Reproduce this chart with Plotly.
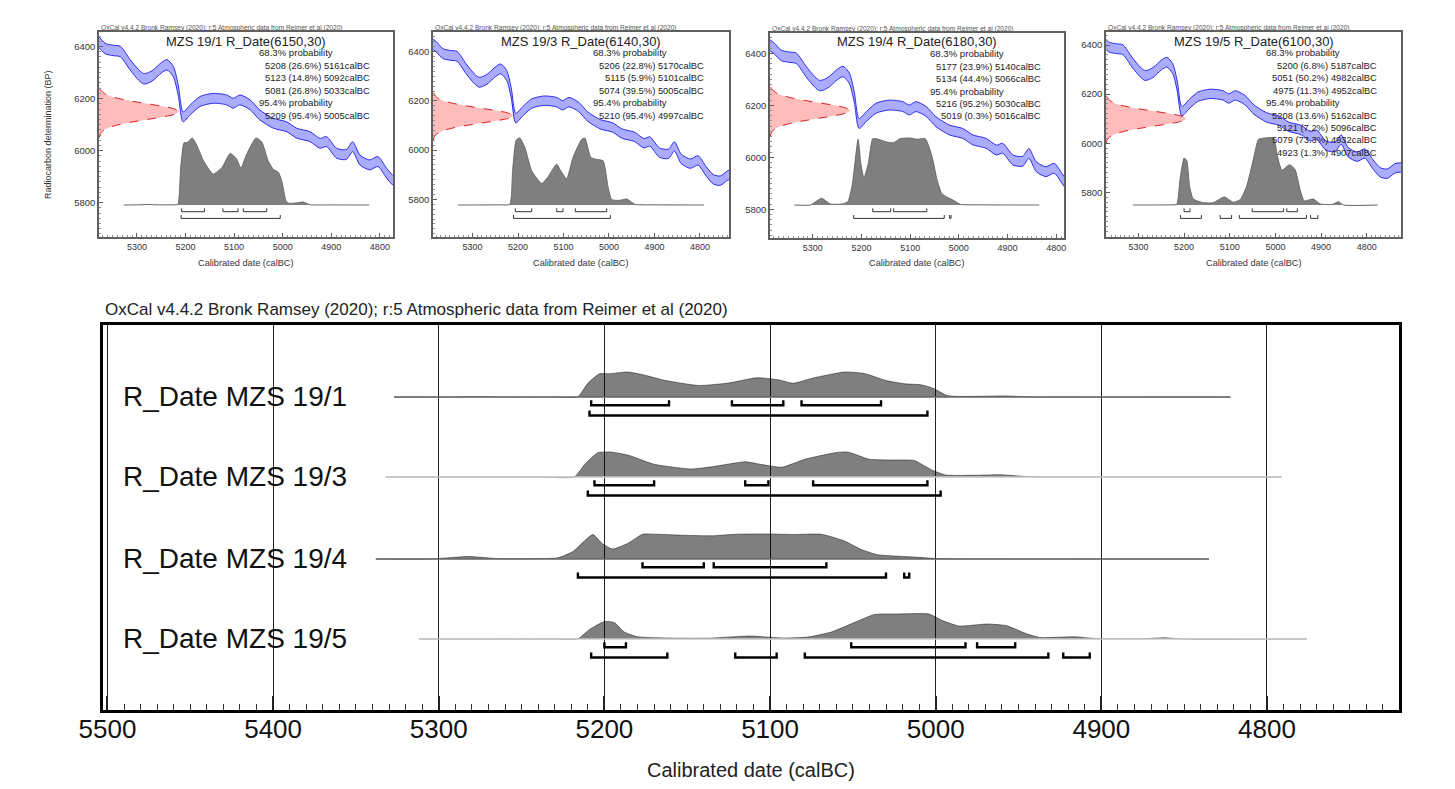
import plotly.graph_objects as go

# the page adds an 8px body margin: the figure fills the rest of the 1455x789 window
OFF = 8
W, H = 1455 - OFF, 789 - OFF

# ---------------- data ----------------
samples = ["MZS 19/1", "MZS 19/3", "MZS 19/4", "MZS 19/5"]
c14_age = [6150, 6140, 6180, 6100]
c14_err = [30, 30, 30, 30]

# calibrated ranges: (from, percent, to)  in calBC
range68 = [
    [(5208, 26.6, 5161), (5123, 14.8, 5092), (5081, 26.8, 5033)],
    [(5206, 22.8, 5170), (5115, 5.9, 5101), (5074, 39.5, 5005)],
    [(5177, 23.9, 5140), (5134, 44.4, 5066)],
    [(5200, 6.8, 5187), (5051, 50.2, 4982), (4975, 11.3, 4952)],
]
range95 = [
    [(5209, 95.4, 5005)],
    [(5210, 95.4, 4997)],
    [(5216, 95.2, 5030), (5019, 0.3, 5016)],
    [(5208, 13.6, 5162), (5121, 7.2, 5096), (5079, 73.3, 4932), (4923, 1.3, 4907)],
]

# IntCal20 calibration curve
cal_year = [5395, 5380, 5365, 5348, 5334, 5314, 5296, 5286, 5276, 5266, 5250, 5238,
            5225, 5215, 5205, 5190, 5170, 5143, 5115, 5102, 5088, 5067, 5047, 5019,
            4992, 4971, 4944, 4923, 4910, 4889, 4869, 4856, 4841, 4821, 4804, 4786,
            4770, 4755, 4738, 4720]
cal_bp = [6440, 6420, 6392, 6385, 6381, 6330, 6290, 6276, 6280, 6291, 6318, 6330,
          6304, 6233, 6130, 6157, 6189, 6201, 6195, 6182, 6195, 6176, 6137, 6105,
          6092, 6067, 6054, 6028, 6035, 5990, 5985, 6015, 5964, 5945, 5958, 5913,
          5881, 5876, 5898, 5902]
cal_sig = [21, 21, 20, 20, 20, 20, 20, 20, 20, 20, 20, 20,
           20, 20, 19, 19, 19, 19, 19, 19, 19, 19, 19, 19,
           19, 19, 19, 19, 19, 19, 19, 19, 19, 19, 19, 19,
           19, 19, 19, 19]

# radiocarbon likelihood profile (offset in 14C yr for sigma 30, relative height)
like_offset = [-100, -90, -80, -70, -60, -50, -40, -30, -20, -10, 0,
               10, 20, 30, 40, 50, 60, 70, 80, 90, 100]
like_rel = [0.004, 0.011, 0.029, 0.066, 0.135, 0.249, 0.411, 0.607, 0.801, 0.946, 1.0,
            0.946, 0.801, 0.607, 0.411, 0.249, 0.135, 0.066, 0.029, 0.011, 0.004]

# posterior (calibrated) distributions, relative probability
post_year_191 = [5327, 5290, 5277, 5265, 5230, 5216, 5210, 5203, 5197, 5186, 5178, 5163,
                 5143, 5125, 5108, 5095, 5086, 5074, 5055, 5043, 5030, 5019, 5009, 5002,
                 4993, 4987, 4972, 4958, 4944, 4900, 4822]
post_dens_191 = [0, 0.003, 0.01, 0.003, 0.002, 0.01, 0.55, 0.93, 0.93, 1.0, 0.91, 0.66,
                 0.46, 0.56, 0.77, 0.69, 0.55, 0.76, 1.0, 0.94, 0.66, 0.53, 0.49, 0.36,
                 0.06, 0.025, 0.03, 0.045, 0.005, 0.001, 0]

post_year_193 = [5332, 5240, 5218, 5212, 5204, 5196, 5185, 5170, 5148, 5134, 5115, 5106,
                 5093, 5079, 5060, 5053, 5040, 5027, 5013, 5002, 4994, 4976, 4961, 4943,
                 4900, 4791]
post_dens_193 = [0, 0.002, 0.01, 0.5, 0.97, 1.0, 0.86, 0.51, 0.32, 0.42, 0.61, 0.51,
                 0.39, 0.71, 0.98, 1.0, 0.71, 0.68, 0.66, 0.27, 0.08, 0.07, 0.09, 0.01,
                 0.002, 0]

post_year_194 = [5338, 5305, 5282, 5264, 5240, 5228, 5219, 5207, 5201, 5195, 5186, 5177,
                 5169, 5148, 5134, 5121, 5100, 5086, 5069, 5055, 5045, 5035, 5025, 5011,
                 4997, 4960, 4835]
post_dens_194 = [0, 0.0, 0.1, 0.015, 0.015, 0.05, 0.3, 0.98, 0.6, 0.4, 0.62, 0.99,
                 0.99, 0.94, 0.93, 0.99, 1.0, 0.98, 0.99, 0.72, 0.38, 0.17, 0.12, 0.07,
                 0.01, 0.002, 0]

post_year_195 = [5312, 5230, 5216, 5209, 5200, 5194, 5188, 5180, 5158, 5136, 5112, 5092,
                 5077, 5063, 5048, 5037, 5023, 5004, 4996, 4986, 4969, 4957, 4946, 4937,
                 4917, 4902, 4875, 4862, 4851, 4776]
post_dens_195 = [0, 0.002, 0.01, 0.38, 0.7, 0.66, 0.28, 0.09, 0.035, 0.035, 0.12, 0.04,
                 0.08, 0.28, 0.69, 0.98, 1.0, 1.0, 0.74, 0.52, 0.6, 0.53, 0.23, 0.06,
                 0.09, 0.015, 0.01, 0.05, 0.0, 0]

post_years = [post_year_191, post_year_193, post_year_194, post_year_195]
post_dens = [post_dens_191, post_dens_193, post_dens_194, post_dens_195]

x_ticks_small = [5300, 5200, 5100, 5000, 4900, 4800]
y_ticks_small = [5800, 6000, 6200, 6400]
x_ticks_big = [5500, 5400, 5300, 5200, 5100, 5000, 4900, 4800]

header = "OxCal v4.4.2 Bronk Ramsey (2020); r:5 Atmospheric data from Reimer et al (2020)"

# ---------------- helpers ----------------
FONT = "Liberation Sans, Arial, sans-serif"


def px(x):
    return (x - OFF) / W


def py(y):
    return 1 - (y - OFF) / H


def aid(kind, n):
    return kind if n == 1 else f"{kind}{n}"


def akey(kind, n):
    return f"{kind}axis" if n == 1 else f"{kind}axis{n}"


def bracket_xy(ranges, level, tick):
    bx, by = [], []
    for a, _, b in ranges:
        bx += [a, a, b, b, None]
        by += [level + tick, level, level, level + tick, None]
    return bx, by


# panel geometry (window pixels) and axis ranges
panels = [
    dict(x0=99, x1=393, y0=32, y1=237, xr=[5378, 4773], yr=[5668, 6456]),
    dict(x0=433, x1=729, y0=32, y1=237, xr=[5387, 4736], yr=[5647, 6480]),
    dict(x0=770, x1=1064, y0=33, y1=238, xr=[5388, 4784], yr=[5690, 6478]),
    dict(x0=1106, x1=1401, y0=32, y1=237, xr=[5371, 4725], yr=[5618, 6453]),
]
DENS_PX = 67.0   # pixel height of a full-probability peak in the small panels
BASE_PX = 205.0  # pixel row of the distribution baseline in the small panels
LIKE_PX = 80.0   # pixel width of the likelihood peak

fig = go.Figure()
layout = dict(width=W, height=H, margin=dict(l=0, r=0, t=0, b=0, pad=0), autosize=False,
              paper_bgcolor="white", plot_bgcolor="white", showlegend=False,
              font=dict(family=FONT, color="#222"))
annotations = []

for i, pn in enumerate(panels):
    p = i + 1
    xid, yid = aid("x", p), aid("y", p)
    ydid = aid("y", 4 + p)
    xgid = aid("x", 4 + p)
    layout[akey("x", p)] = dict(
        domain=[px(pn["x0"]), px(pn["x1"])], range=pn["xr"], anchor=yid, automargin=False,
        showline=True, mirror=True, linecolor="#606060", linewidth=1.5,
        ticks="inside", ticklen=4, tickcolor="#606060", tickmode="array",
        tickvals=x_ticks_small, tickfont=dict(size=9, color="#333"),
        showgrid=False, zeroline=False,
        minor=dict(tickmode="linear", tick0=0, dtick=10, ticklen=2, ticks="inside",
                   tickcolor="#909090", showgrid=False))
    layout[akey("y", p)] = dict(
        domain=[py(pn["y1"]), py(pn["y0"])], range=pn["yr"], anchor=xid, automargin=False,
        showline=True, mirror=True, linecolor="#606060", linewidth=1.5,
        ticks="inside", ticklen=4, tickcolor="#606060", tickmode="array",
        tickvals=y_ticks_small, tickfont=dict(size=9.5, color="#333"),
        showgrid=False, zeroline=False,
        minor=dict(tickmode="linear", tick0=0, dtick=20, ticklen=2, ticks="inside",
                   tickcolor="#909090", showgrid=False))
    layout[akey("y", 4 + p)] = dict(
        overlaying=yid, anchor=xid, visible=False, automargin=False,
        range=[-(pn["y1"] - BASE_PX) / DENS_PX, (BASE_PX - pn["y0"]) / DENS_PX])
    layout[akey("x", 4 + p)] = dict(
        overlaying=xid, anchor=yid, visible=False, automargin=False,
        range=[0, (pn["x1"] - pn["x0"]) / LIKE_PX])

    # calibration curve band
    lower = [b - s for b, s in zip(cal_bp, cal_sig)]
    upper = [b + s for b, s in zip(cal_bp, cal_sig)]
    fig.add_trace(go.Scatter(x=cal_year, y=lower, xaxis=xid, yaxis=yid, mode="lines",
                             line=dict(color="#2b2bee", width=1, shape="spline", smoothing=0.7),
                             hoverinfo="skip"))
    fig.add_trace(go.Scatter(x=cal_year, y=upper, xaxis=xid, yaxis=yid, mode="lines",
                             fill="tonexty", fillcolor="rgba(70,70,255,0.45)",
                             line=dict(color="#2b2bee", width=1, shape="spline", smoothing=0.7),
                             hoverinfo="skip"))
    # radiocarbon likelihood
    gy = [c14_age[i] + o * c14_err[i] / 30 for o in like_offset]
    fig.add_trace(go.Scatter(x=like_rel, y=gy, xaxis=xgid, yaxis=yid, mode="lines",
                             fill="tozerox", fillcolor="rgba(255,80,80,0.38)",
                             line=dict(color="#e02020", width=1, dash="dash", shape="spline"),
                             hoverinfo="skip"))
    # posterior
    fig.add_trace(go.Scatter(x=post_years[i], y=post_dens[i], xaxis=xid, yaxis=ydid,
                             mode="lines", fill="tozeroy", fillcolor="#7f7f7f",
                             line=dict(color="#6a6a6a", width=1, shape="spline", smoothing=0.5),
                             hoverinfo="skip"))
    for lvl, rngs in ((-0.1, range68[i]), (-0.2, range95[i])):
        bx, by = bracket_xy(rngs, lvl, 0.05)
        fig.add_trace(go.Scatter(x=bx, y=by, xaxis=xid, yaxis=ydid, mode="lines",
                                 line=dict(color="#333", width=1), hoverinfo="skip"))

    # texts
    cx = (pn["x0"] + pn["x1"]) / 2
    annotations.append(dict(x=px(pn["x0"]), y=py(pn["y0"] - 4), xref="paper", yref="paper",
                            text=header, showarrow=False, xanchor="left", yanchor="middle",
                            font=dict(size=6.6, color="#555")))
    annotations.append(dict(x=px(cx), y=py(42), xref="paper", yref="paper",
                            text=f"{samples[i]} R_Date({c14_age[i]},{c14_err[i]})",
                            showarrow=False, xanchor="center", yanchor="middle",
                            font=dict(size=13, color="#222")))
    lines = [("68.3% probability", "h")]
    lines += [(f"{a} ({pc}%) {b}calBC", "r") for a, pc, b in range68[i]]
    lines += [("95.4% probability", "h")]
    lines += [(f"{a} ({pc}%) {b}calBC", "r") for a, pc, b in range95[i]]
    for k, (t, kind) in enumerate(lines):
        yy = 53 + 12.4 * k + (pn["y0"] - 32)
        if kind == "h":
            annotations.append(dict(x=px(pn["x0"] + 158), y=py(yy), xref="paper", yref="paper",
                                    text=t, showarrow=False, xanchor="left", yanchor="middle",
                                    font=dict(size=9.6, color="#222")))
        else:
            annotations.append(dict(x=px(pn["x0"] + 273), y=py(yy), xref="paper", yref="paper",
                                    text=t, showarrow=False, xanchor="right", yanchor="middle",
                                    font=dict(size=9.4, color="#222")))
    annotations.append(dict(x=px(cx), y=py(263), xref="paper", yref="paper",
                            text="Calibrated date (calBC)", showarrow=False,
                            xanchor="center", yanchor="middle", font=dict(size=9.2, color="#333")))

annotations.append(dict(x=px(48), y=py(135), xref="paper", yref="paper",
                        text="Radiocarbon determination (BP)", showarrow=False, textangle=-90,
                        xanchor="center", yanchor="middle", font=dict(size=9, color="#333")))

# ---------------- multiplot ----------------
BX0, BX1, BY0, BY1 = 103, 1399, 325, 710
row_base = [397, 477, 559, 639]
ROW_PX = 25.0
row_line_colors = ["#666666", "#c8c8c8", "#666666", "#c8c8c8"]

layout["xaxis9"] = dict(
    domain=[px(BX0), px(BX1)], range=[5502.7, 4720.3], anchor="y9", automargin=False,
    showline=True, mirror=True, linecolor="black", linewidth=2.5,
    ticks="inside", ticklen=14, tickwidth=2, tickcolor="#222", tickmode="array",
    tickvals=x_ticks_big, tickfont=dict(size=26, color="#111"), ticklabelstandoff=-6,
    showgrid=True, gridcolor="#222", gridwidth=1.2, zeroline=False,
    minor=dict(tickmode="linear", tick0=0, dtick=10, ticklen=6, ticks="inside",
               tickcolor="#333", tickwidth=1.2, showgrid=False))
for r, pb in enumerate(row_base):
    n = 9 + r
    rng = [-(BY1 - pb) / ROW_PX, (pb - BY0) / ROW_PX]
    if r == 0:
        layout["yaxis9"] = dict(domain=[py(BY1), py(BY0)], range=rng, anchor="x9",
                                automargin=False,
                                showline=True, mirror=True, linecolor="black", linewidth=2.5,
                                showticklabels=False, ticks="", showgrid=False, zeroline=False)
    else:
        layout[akey("y", n)] = dict(overlaying="y9", anchor="x9", range=rng, visible=False,
                                    automargin=False)
    yid = aid("y", n)
    yrs, dns = post_years[r], post_dens[r]
    fig.add_trace(go.Scatter(x=yrs, y=dns, xaxis="x9", yaxis=yid, mode="lines",
                             fill="tozeroy", fillcolor="rgba(0,0,0,0.5)",
                             line=dict(color="rgba(0,0,0,0.45)", width=1, shape="spline", smoothing=0.5),
                             hoverinfo="skip"))
    fig.add_trace(go.Scatter(x=[yrs[0], yrs[-1]], y=[0, 0], xaxis="x9", yaxis=yid, mode="lines",
                             line=dict(color=row_line_colors[r], width=1.3), hoverinfo="skip"))
    for lvl, rngs in ((-0.33, range68[r]), (-0.74, range95[r])):
        bx, by = bracket_xy(rngs, lvl, 0.2)
        fig.add_trace(go.Scatter(x=bx, y=by, xaxis="x9", yaxis=yid, mode="lines",
                                 line=dict(color="black", width=2.4), hoverinfo="skip"))
    annotations.append(dict(x=px(121), y=py(pb - 1), xref="paper", yref="paper",
                            text=f"R_Date {samples[r]}", showarrow=False,
                            xanchor="left", yanchor="middle", font=dict(size=28, color="#111")))

annotations.append(dict(x=px(BX0), y=py(309), xref="paper", yref="paper", text=header,
                        showarrow=False, xanchor="left", yanchor="middle",
                        font=dict(size=17, color="#222")))
annotations.append(dict(x=px((BX0 + BX1) / 2), y=py(770), xref="paper", yref="paper",
                        text="Calibrated date (calBC)", showarrow=False,
                        xanchor="center", yanchor="middle", font=dict(size=20, color="#222")))

layout["annotations"] = annotations
fig.update_layout(**layout)
fig.write_html("out.html")
